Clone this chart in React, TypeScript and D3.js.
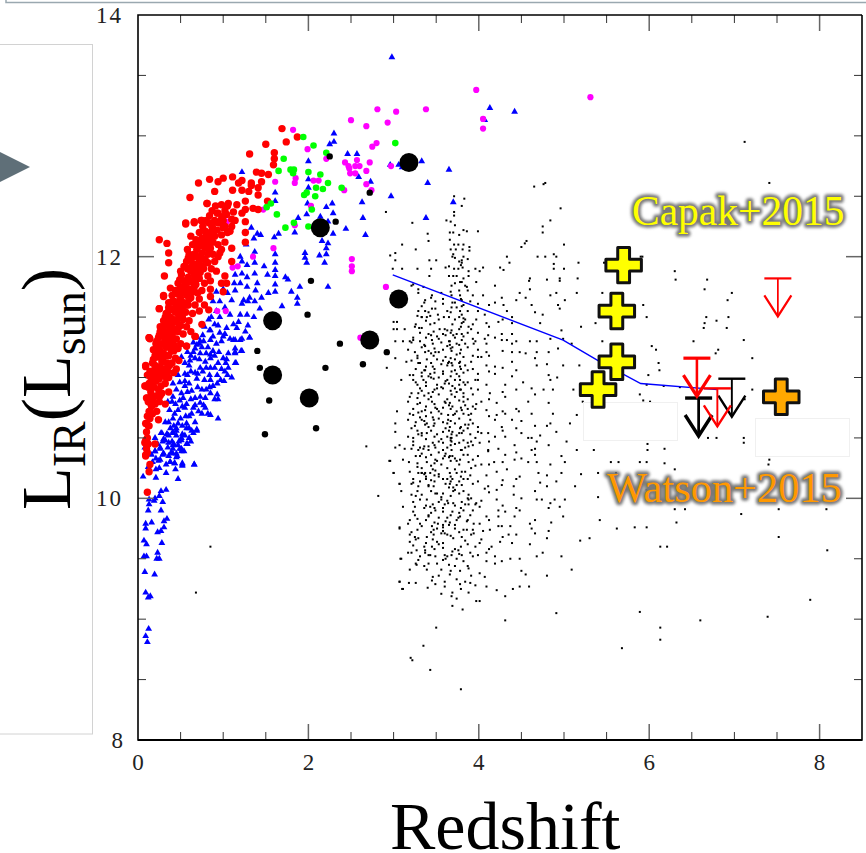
import React from "react";
import * as d3 from "d3";

const bluePts: number[][] = [[.06,10.18],[.21,10.17],[.33,10.21],[.47,10.16],[.44,10.24],[.25,10.25],[.21,10.24],[.52,10.28],[.66,10.28],[.375,10.30],[.24,10.31],[.43,10.29],[.33,10.07],[.27,10.06],[.25,10.02],[.2,10.0],[.13,9.99],[.13,9.95],[.19,9.98],[.29,9.97],[.12,9.9],[.27,9.9],[.34,9.83],[.305,9.81],[.16,9.8],[.09,9.79],[.09,9.75],[.305,9.76],[.27,9.73],[.23,9.72],[.07,9.65],[.1,9.62],[.28,9.63],[.23,9.55],[.07,9.52],[.1,9.52],[.22,9.5],[.25,9.5],[.08,9.39],[.195,9.37],[.09,9.22],[.12,9.18],[.145,9.19],[.125,8.92],[.09,8.86],[.11,8.81],[.27,10.54],[.34,10.53],[.41,10.54],[.45,10.56],[.52,10.53],[.65,10.54],[.69,10.56],[.2,10.5],[.3,10.49],[.36,10.46],[.42,10.45],[.51,10.48],[.58,10.45],[.08,10.42],[.26,10.41],[.41,10.41],[.49,10.41],[.54,10.39],[.2,10.39],[.3,10.37],[.41,10.37],[.46,10.35],
[1.31,11.33],[1.22,11.32],[1.14,11.31],[1.08,11.32],[1.26,11.38],[.85,11.39],[.96,11.37],[1.02,11.36],[.76,11.35],[.85,11.31],[.77,11.3],[.69,11.27],[.65,11.29],[1.14,11.24],[1.21,11.22],[1.14,11.21],[.95,11.21],[1.0,11.16],[.9,11.18],[.85,11.19],[.73,11.2],[.65,11.21],[.58,11.21],[.51,11.17],[.61,11.14],[.67,11.16],[.55,11.12],[.79,11.13],[.85,11.16],[.94,11.12],[1.03,11.12],[1.06,11.08],[1.15,11.12],[1.02,11.05],[.85,11.08],[.8,11.08],[.73,11.08],[.67,11.04],[.55,11.03],[.47,11.02],[.84,11.02],[.93,11.02],[.69,10.99],[1.01,10.97],[.93,10.95],[.85,10.98],[.55,10.97],[.49,10.96],[.41,10.95],[.84,10.92],[.75,10.9],[.63,10.89],[.55,10.93],[.45,10.9],[.51,10.87],[.85,10.87],[.93,10.86],[.9,10.82],[.94,10.82],[.79,10.83],[.73,10.84],[.67,10.83],[.53,10.83],[.41,10.84],[.49,10.81],[.73,10.79],[.67,10.77],[.77,10.77],[.79,10.75],[.55,10.75],[.47,10.73],[.37,10.73],[.71,10.72],[.63,10.7],[.56,10.68],[.85,10.69],[.94,10.66],[.41,10.66],[.36,10.63],[.32,10.63],[.57,10.62],[.67,10.63],[.57,10.58],[.45,10.58],[.69,10.57],[.63,10.56],[.41,10.55],[.34,10.53],[.28,10.54],[.55,10.52],[.51,10.5],[.32,10.48],[.57,10.45],[.47,10.44],[.41,10.44],[.51,10.41],[.26,10.42],[.2,10.39],[.3,10.37],[.45,10.37],[.39,10.38],[.51,10.39],[.45,10.34],[.26,10.32],[.38,10.3],[.43,10.29],[.52,10.29],[.66,10.28],[.52,10.27],
[2.98,13.65],[2.30,13.02],[2.30,12.95],[2.25,12.93],[2.46,12.85],[2.57,12.85],[2.0,12.79],[2.59,12.66],[3.06,12.76],[3.33,12.79],[3.4,12.61],[2.73,12.62],[1.22,12.7],[1.61,12.53],[1.61,12.46],[2.97,12.5],[2.63,12.45],[2.28,12.44],[2.0,12.64],[2.0,12.57],[1.99,12.44],[2.21,12.41],[2.64,12.32],[3.38,12.32],[2.44,12.23],[2.67,12.18],[2.29,12.36],[2.14,12.33],[1.98,12.35],[1.88,12.32],[2.23,12.29],[2.29,12.19],[2.16,12.13],[2.23,12.11],[2.21,12.07],[1.96,12.03],[1.96,11.99],[1.98,11.95],[2.13,12.01],[2.21,12.02],[2.19,11.95],[1.84,12.2],[1.65,12.19],[1.6,12.16],[1.44,12.18],[1.4,12.19],[1.33,12.24],[1.36,12.15],[1.27,12.1],[1.37,12.04],[1.2,12.0],[1.61,12.02],[1.61,11.95],[1.61,11.89],[1.48,11.92],[1.52,11.85],[1.61,11.84],[1.73,11.83],[1.76,11.81],[1.61,11.77],[1.9,11.75],[2.23,11.75],[1.37,11.95],[1.28,11.93],[1.22,11.96],[1.37,11.86],[1.22,11.86],[1.13,11.78],[1.28,11.75],[1.14,11.72],[1.38,11.72],[1.53,11.7],[1.61,11.71],[1.8,11.71],[1.87,11.66],[1.87,11.61],[1.69,11.59],[1.37,11.63],[1.29,11.63],[1.24,11.64],[1.22,11.61],[1.31,11.66],[1.43,11.57],[1.0,11.73],[.92,11.71],[.88,11.63],[.96,11.63],[1.28,11.52],[1.2,11.52],[1.08,11.52],[.96,11.5],[.86,11.5],[.83,11.48],[1.29,11.43],[1.16,11.41],[1.04,11.41],[.94,11.43],[.84,11.39],[1.31,11.33],[1.2,11.31],[1.12,11.31],[1.0,11.34],[.88,11.34],[.73,11.3],[1.22,11.22],[1.14,11.2],[1.04,11.15],[1.14,11.12],[4.13,13.23],[4.42,13.2],[4.07,13.13],[3.65,12.72],[3.7,12.45],[2.96,12.76],[3.1,12.74],
[.6,11.1],[.62,11.05],[.58,11.02],[.72,11.15],[.7,11.03],[.76,11.05],[.78,10.98],[.82,11.25],[.88,11.22],[.92,11.28],[.98,11.3],[.62,11.18],[.67,11.24],[.75,11.25],[.8,11.2],[.9,11.08],[.98,11.07],[.97,10.98],[1.05,11.02],[.88,10.93],[.8,10.9],[.7,10.92],[.6,10.95],[.62,10.82],[.58,10.88],[.57,10.78],[.65,10.75],[.75,10.7],[.82,10.7],[.6,10.68],[.52,10.76],[.44,10.78],[.4,10.8],[.35,10.8],[.43,10.7],[.5,10.66],[.47,10.62],[.6,10.58],[.52,10.6],[.42,10.6],[.38,10.58],[.36,10.52],[.45,10.52],[.6,10.5],[.62,10.47],[.4,10.47],[.29,10.47],[.23,10.45],[.35,10.42],[.48,10.47],[.36,10.35],[.33,10.28],[.29,10.36],[.21,10.33],[.17,10.3],[.13,10.46],[.16,10.36],[.12,10.26],[.7,11.33],[.78,11.42],[.72,11.28],[1.1,11.0],[1.06,11.2],[.9,11.44],[.92,11.55],[1.02,11.58],[1.1,11.64],[1.05,11.7],[1.14,11.85],[1.2,11.78],[1.28,11.83],[1.4,11.78],[1.45,11.66],[1.18,11.46],[1.36,11.5],[1.12,11.44]];

const redPts: number[][] = [[1.69,13.06],[1.87,12.99],[1.74,12.95],[1.5,12.93],[1.6,12.86],[1.31,12.85],[1.6,12.81],[1.59,12.76],[1.39,12.7],[1.45,12.69],[1.53,12.68],[1.45,12.62],[1.33,12.61],[1.22,12.63],[1.11,12.66],[1.0,12.65],[.94,12.62],[.84,12.64],[.71,12.61],[.61,12.49],[.9,12.54],[1.11,12.55],[.81,12.44],[1.41,12.57],[1.41,12.51],[1.52,12.46],[1.35,12.4],[1.41,12.39],[1.26,12.29],[1.26,12.2],[1.26,12.12],[.56,12.27],[.66,12.28],[.74,12.3],[.62,12.17],[.25,12.14],[.34,12.11],[.36,12.03],[.36,11.95],[.31,11.84],[.3,11.68],[.25,11.57],[.13,11.33],[.22,11.3],[.18,11.23],[.09,11.1],[.09,10.93],[.11,10.83],
[.81,12.44],[.98,12.43],[1.06,12.44],[.94,12.36],[.98,12.31],[1.26,12.46],[1.26,12.39],[1.16,12.43],[1.12,12.37],[1.22,12.55],[1.18,12.61],[1.3,12.54],[1.33,12.59],[1.1,12.31],[1.22,12.36],[1.08,12.21],[1.0,12.24],[.87,12.25],[.83,12.28],[.75,12.3],[.66,12.29],[.56,12.28],[.85,12.2],[.77,12.15],[.71,12.12],[.58,12.06],[.69,12.06],[.59,11.99],[.63,11.92],[.51,11.85],[.49,11.81],[.57,11.78],[.38,11.74],[.53,11.75],[.45,11.7],[.3,11.67],[.4,11.63],[.25,11.57],[.36,11.55],[.45,11.61],[.26,11.42],[.13,11.33],[.32,11.34],[.26,11.38],[.75,11.44],[.67,11.34],[.57,11.26],[1.02,11.84],[1.04,11.78],[.98,11.78],[.85,11.73],[.85,11.67],[.83,11.56],[1.1,11.96],[1.1,12.07],[.96,12.03],[1.0,11.71],
[.09,10.36],[.1,10.41],[.08,10.46],[.11,10.5],[.1,10.55],[.09,10.62],[.12,10.6],[.14,10.66],[.11,10.68],[.17,10.7],[.13,10.72],[.16,10.76],[.2,10.78],[.12,10.8],[.18,10.83],[.22,10.85],[.15,10.88],[.24,10.9],[.19,10.92],[.27,10.93],[.13,10.95],[.21,10.97],[.25,10.99],[.17,11.0],[.29,11.02],[.23,11.03],[.14,11.05],[.31,11.07],[.26,11.09],[.2,11.1],[.34,11.12],[.28,11.13],[.18,11.15],[.23,11.17],[.36,11.18],[.3,11.2],[.26,11.22],[.39,11.22],[.33,11.25],[.22,11.25],[.42,11.27],[.28,11.28],[.36,11.3],[.45,11.32],[.31,11.33],[.4,11.35],[.25,11.35],[.34,11.38],[.47,11.38],[.43,11.4],[.38,11.42],[.3,11.42],[.5,11.43],[.35,11.45],[.45,11.46],[.41,11.48],[.53,11.48],[.38,11.5],[.32,11.5],[.48,11.52],[.44,11.54],[.56,11.54],[.41,11.57],[.51,11.58],[.36,11.58],[.47,11.6],[.59,11.6],[.54,11.62],[.43,11.63],[.5,11.65],[.62,11.66],[.57,11.68],[.47,11.69],[.53,11.71],[.65,11.71],[.6,11.73],[.5,11.75],[.56,11.76],[.68,11.77],[.63,11.79],[.54,11.8],[.7,11.82],[.59,11.83],[.66,11.85],[.73,11.87],[.62,11.88],[.69,11.9],[.58,11.9],[.76,11.92],[.66,11.94],[.72,11.96],[.79,11.97],[.62,11.97],[.7,12.0],[.82,12.02],[.75,12.03],[.66,12.02],[.85,12.07],[.78,12.08],[.72,12.09],[.88,12.12],[.81,12.13],[.75,12.15],[.9,12.17],[.84,12.19],[.79,12.21],[.93,12.22],[.87,12.25],[.96,12.28],[.9,12.3],[.99,12.33],[.93,12.36],[1.02,12.38],[1.05,12.42],
[.09,11.09],[.14,11.32],[.1,10.83],[.08,10.93],[.1,10.62],[.09,10.48],[.09,10.35],[.14,10.28],[.13,10.22],[.11,10.05],[.32,10.78],[.36,10.88],[.45,11.07],[.57,11.26],[.67,11.34],[.2,10.45],[.24,10.65],[.15,11.0],[.19,11.06],[.24,11.2],[.11,11.02],[.16,10.94],[.37,11.26],[.41,11.3],[.53,11.55],[.6,11.65],[.66,11.75],[.72,11.82],[.77,11.9],[.82,11.95],[.88,12.02],[.94,12.1],[.98,12.18],[.73,12.0],[.8,12.07],[.86,12.15],[.68,11.92],[.6,11.8],[.55,11.7],[.46,11.55],[.39,11.4],[.33,11.3],[.28,11.18],[.2,10.98],[.16,10.82],[.48,11.42],[.42,11.22],[.35,11.05],[.52,11.6],[.57,11.6],[.64,11.9],[.7,11.7],
[.12,10.92],[.15,11.05],[.17,11.12],[.2,11.18],[.21,11.28],[.24,11.33],[.28,11.38],[.3,11.47],[.33,11.53],[.36,11.62],[.4,11.68],[.44,11.72],[.47,11.78],[.5,11.88],[.54,11.92],[.57,11.96],[.6,12.02],[.64,12.1],[.68,12.14],[.72,12.2],[.76,12.25],[.8,12.3],[.84,12.34],[.87,12.38],[.91,12.42],[.15,10.78],[.13,10.82],
[.22,10.72],[.25,10.8],[.28,10.87],[.32,10.95],[.36,11.0],[.4,11.12],[.44,11.16],[.47,11.24],[.5,11.28],[.53,11.36],[.57,11.42],[.6,11.47],[.64,11.53],[.67,11.6],[.72,11.65],[.75,11.72],[.78,11.78],[.82,11.84],[.86,11.9],[.9,11.96],[.94,12.0],[.98,12.06],[1.02,12.12],[1.05,12.2],[1.1,12.25],[1.14,12.3],[1.02,12.25],[.37,11.1],[.42,11.04],[.48,11.14],[.52,11.5],[.62,11.38],[.72,11.55],[.78,11.6],[.85,11.8],[.92,11.88],[.33,11.0],[.26,10.85],
[.25,11.05],[.29,11.15],[.33,11.18],[.38,11.3],[.42,11.38],[.46,11.48],[.5,11.52],[.55,11.6],[.58,11.72],[.62,11.72],[.66,11.8],[.7,11.86],[.74,11.92],[.78,11.98],[.82,12.08],[.86,12.12],[.9,12.22],[.94,12.28],[1.0,12.3],[1.04,12.35],[.35,11.35],[.4,11.45],[.45,11.6],[.5,11.7],[.55,11.8],[.6,11.9],[.65,12.0],[.7,12.08],[.75,12.1],[.8,12.18],[.85,12.28],[.25,11.25],[.2,11.05],[.16,10.85],[.13,10.6],[.12,10.45],[.11,10.38]];

const magentaPts: number[][] = [[1.82,13.05],[1.99,12.89],[2.21,12.81],[1.61,12.62],[1.85,12.65],[1.84,12.61],[2.06,12.63],[2.12,12.63],[2.42,12.55],[2.5,13.13],[2.81,13.22],[3.03,13.2],[3.38,13.22],[2.68,13.08],[2.93,13.11],[2.75,12.91],[2.8,12.94],[2.43,12.78],[2.47,12.75],[2.48,12.73],[2.49,12.69],[2.55,12.69],[2.57,12.8],[2.55,12.75],[2.6,12.75],[2.72,12.78],[2.68,12.71],[2.68,12.6],[2.74,12.55],[2.97,12.75],[1.84,12.26],[1.47,12.39],[1.59,12.07],[1.35,12.0],[2.51,11.98],[2.51,11.92],[2.51,11.88],[2.91,11.75],[1.17,11.92],[1.11,11.91],[1.03,11.55],[.93,11.55],[2.61,11.33],[2.03,12.42],[1.26,12.46],[1.04,12.29],[3.97,13.38],[4.05,13.14],[4.05,13.06],[5.31,13.32]];

const greenPts: number[][] = [[1.94,12.99],[2.06,12.92],[2.21,12.86],[1.71,12.81],[1.65,12.71],[1.79,12.72],[1.83,12.72],[1.82,12.69],[2.0,12.7],[2.14,12.68],[2.23,12.61],[2.09,12.57],[2.17,12.56],[2.39,12.57],[1.98,12.53],[1.95,12.51],[2.08,12.5],[2.04,12.39],[1.56,12.44],[1.51,12.41],[1.63,12.35],[1.83,12.28],[1.73,12.24],[2.0,12.25],[3.02,12.94]];

const blackMid: number[][] = [[2.25,12.83],[2.72,12.53],[2.32,12.29],[2.03,11.8],[1.99,11.52],[1.4,11.22],[1.43,11.08],[2.2,11.08],[1.54,10.81],[2.37,11.28],[2.64,11.11],[2.92,11.21],[2.09,10.58],[1.49,10.53]];

const blackBig: number[][] = [[3.18,12.78],[2.14,12.24],[1.58,11.47],[3.06,11.65],[2.72,11.31],[1.58,11.02],[2.01,10.83]];

// redshift column -> luminosities read in that column
const dotColumns: [number, number[]][] = [
[3.21,[11.76,11.29,11.14,10.87,10.58,10.41,10.12,9.72,9.55]],
[3.26,[11.44,11.07,10.96,10.63,10.35,10.02,9.66,9.46]],
[3.31,[11.37,11.12,10.91,10.67,10.42,10.14,9.79,9.52]],
[3.36,[11.62,11.27,11.06,10.85,10.64,10.43,10.2,9.92,9.6,9.44]],
[3.41,[11.54,11.22,11.01,10.82,10.59,10.4,10.11,9.85,9.53]],
[3.46,[11.28,11.09,10.88,10.67,10.46,10.24,9.95,9.66,9.35]],
[3.51,[11.34,11.15,10.94,10.74,10.53,10.31,10.04,9.75,9.46]],
[3.56,[11.29,11.11,10.92,10.7,10.49,10.28,9.99,9.71,9.41]],
[3.61,[11.35,11.17,10.97,10.79,10.58,10.37,10.12,9.81,9.5]],
[3.65,[11.84,11.5,11.3,11.13,10.95,10.77,10.56,10.34,10.09,9.78,9.45]],
[3.69,[12.0,11.62,11.44,11.25,11.1,10.93,10.76,10.55,10.35,10.16,9.89,9.56,9.22]],
[3.74,[11.84,11.58,11.36,11.19,11.03,10.88,10.72,10.52,10.31,10.11,9.82,9.5,9.33]],
[3.79,[11.93,11.65,11.42,11.23,11.07,10.9,10.75,10.59,10.4,10.18,9.92,9.6,9.25]],
[3.84,[11.76,11.48,11.28,11.1,10.94,10.77,10.61,10.42,10.22,9.95,9.65,9.31]],
[3.91,[11.4,11.13,10.91,10.7,10.47,10.25,10.0,9.7,9.36]],
[3.96,[11.3,10.98,10.74,10.5,10.27,9.95,9.6,9.28]],
[4.03,[11.17,10.8,10.54,10.28,9.98,9.66]],
[3.23,[11.33,11.31,11.02,10.98,10.74,10.69,10.47,10.44,10.16,10.13,9.97,9.61]],
[3.28,[11.51,11.18,11.16,10.94,10.83,10.78,10.56,10.29,10.26,10.06,9.83,9.74]],
[3.33,[11.41,11.25,11.04,11.01,10.89,10.72,10.54,10.52,10.37,10.25,10.21,10.03,9.77]],
[3.38,[11.47,11.33,11.09,10.96,10.93,10.76,10.68,10.49,10.34,10.18,10.16,9.94,9.82,9.63]],
[3.44,[11.66,11.35,11.2,11.12,11.0,10.84,10.71,10.56,10.36,10.27,10.15,10.06,9.88,9.72]],
[3.48,[11.45,11.24,11.07,11.04,10.9,10.78,10.62,10.51,10.44,10.29,10.19,10.14,9.92,9.8,9.58]],
[3.53,[11.48,11.32,11.21,11.0,10.86,10.72,10.66,10.47,10.38,10.2,10.18,9.97,9.84,9.62,9.36]],
[3.58,[11.65,11.36,11.14,11.03,10.91,10.75,10.63,10.46,10.33,10.16,10.04,9.92,9.76,9.59]],
[3.63,[11.55,11.39,11.26,11.1,10.98,10.82,10.62,10.51,10.42,10.25,10.16,9.98,9.84,9.7,9.52]],
[3.67,[12.06,11.71,11.54,11.37,11.24,11.16,11.01,10.89,10.74,10.64,10.5,10.48,10.44,10.31,10.18,10.14,10.02,9.86,9.69,9.4]],
[3.72,[12.26,11.78,11.62,11.48,11.33,11.15,11.06,10.98,10.84,10.7,10.62,10.45,10.33,10.24,10.07,9.94,9.78,9.58,9.44]],
[3.77,[12.18,11.96,11.72,11.5,11.4,11.27,11.12,11.01,10.94,10.81,10.66,10.54,10.46,10.28,10.14,10.04,9.88,9.72,9.54]],
[3.82,[12.22,12.0,11.82,11.6,11.46,11.34,11.17,11.04,10.96,10.84,10.7,10.56,10.48,10.36,10.16,10.06,9.9,9.74,9.48]],
[3.87,[11.98,11.72,11.55,11.37,11.25,11.06,10.96,10.82,10.74,10.58,10.46,10.36,10.16,10.0,9.82,9.62,9.44]],
[3.93,[11.68,11.44,11.32,11.18,11.07,10.86,10.76,10.62,10.44,10.32,10.12,9.9,9.74,9.52]],
[4.12,[11.6,11.42,11.18,11.05,10.82,10.68,10.47,10.28,10.05,9.82,9.58]],
[4.28,[11.48,11.22,11.08,10.88,10.72,10.56,10.3,10.15,9.94,9.68]],
[4.44,[11.64,11.3,11.06,10.9,10.74,10.58,10.38,10.16,9.92,9.7]],
[4.66,[11.54,11.16,10.86,10.6,10.36,10.06,9.82]],
[4.84,[11.68,11.32,10.98,10.62,10.28,9.96]],
];

const readDots: number[][] = [[3.11,9.93],[3.25,9.93],[3.43,9.93],[3.49,9.9],[3.6,9.95],[3.64,9.96],[3.7,9.96],[3.8,9.97],[3.88,9.95],[3.97,9.96],[4.01,9.93],[4.23,9.9],[4.31,9.89],[4.48,9.9],[4.82,9.92],[4.95,9.93],[3.23,9.89],[3.19,9.82],[3.25,9.86],[3.41,9.86],[3.58,9.89],[3.78,9.85],[3.9,9.86],[4.09,9.85],[4.23,9.85],[4.42,9.85],[4.99,9.85],[3.17,9.79],[3.45,9.77],[3.52,9.79],[3.58,9.78],[3.66,9.8],[3.76,9.84],[3.86,9.81],[3.94,9.79],[4.01,9.79],[4.23,9.77],[4.37,9.77],[4.6,9.79],[3.07,9.75],[3.47,9.74],[3.58,9.73],[3.72,9.75],[3.86,9.74],[4.05,9.73],[4.13,9.74],[4.27,9.77],[4.62,9.75],[4.82,9.73],[3.19,9.7],[3.25,9.68],[3.47,9.7],[3.39,9.68],[3.6,9.71],[3.7,9.67],[3.8,9.68],[3.94,9.71],[4.35,9.7],[4.66,9.71],[4.8,9.67],[3.29,9.67],[3.19,9.64],[3.51,9.64],[3.58,9.63],[4.01,9.63],[4.25,9.64],[4.39,9.63],[4.6,9.62],[3.27,9.57],[3.37,9.57],[3.45,9.6],[3.17,9.55],[3.37,9.55],[3.43,9.53],[3.49,9.52],[3.6,9.53],[3.68,9.53],[3.76,9.57],[3.8,9.53],[3.9,9.55],[3.99,9.53],[4.09,9.55],[4.19,9.52],[4.37,9.5],[4.48,9.5],[4.68,9.52],[4.75,9.55],[4.97,9.52],[3.08,9.5],[3.29,9.49],[3.58,9.49],[4.09,9.48],[4.19,9.46],[4.27,9.48],[3.27,9.45],[3.19,9.41],[3.41,9.46],[3.88,9.42],[3.78,9.4],[4.01,9.38],[4.07,9.35],[3.66,9.37],[3.39,9.41],[4.55,9.37],[4.8,9.36],[3.07,9.31],[3.18,9.3],[3.26,9.3],[3.45,9.32],[3.49,9.29],[3.6,9.31],[3.78,9.29],[3.9,9.3],[3.11,9.25],[3.4,9.26],[3.6,9.27],[4.09,9.27],[4.21,9.24],[4.48,9.27],[4.59,9.27],[3.56,9.21],[3.88,9.22],[4.31,9.19],[3.68,9.19],[3.74,9.17],[3.97,9.15],[4.01,9.15],[3.69,9.11],[3.81,9.08],[4.91,9.05],
[4.65,12.58],[4.76,12.6],[4.96,12.4],[4.84,12.3],[3.71,12.5],[3.83,12.48],[3.8,12.42],[2.91,12.37],[3.22,12.28],[3.71,12.37],[3.71,12.34],[3.62,12.3],[3.67,12.29],[4.75,12.25],[4.75,12.2],[3.4,12.19],[3.41,12.13],[3.66,12.2],[3.7,12.2],[3.86,12.21],[3.99,12.21],[3.66,12.14],[4.56,12.13],[4.5,12.08],[4.54,12.11],[5.0,12.1],[3.1,12.1],[3.71,12.1],[3.76,12.1],[3.82,12.1],[3.89,12.08],[3.26,12.06],[3.73,12.06],[3.81,12.06],[3.89,12.05],[2.96,12.01],[3.02,12.03],[3.7,12.02],[3.72,11.99],[4.69,12.0],[4.78,12.0],[4.88,12.02],[4.91,12.0],[4.33,12.0],[4.36,11.95],[3.02,11.97],[3.42,11.97],[3.5,11.97],[3.8,11.97],[3.8,11.95],[5.17,11.95],[4.88,11.94],[3.61,11.91],[3.65,11.92],[3.71,11.9],[3.76,11.9],[3.81,11.91],[2.99,11.9],[3.1,11.9],[3.28,11.9],[3.44,11.9],[3.96,11.9],[4.05,11.91],[4.25,11.91],[4.29,11.89],[4.88,11.9],[5.0,11.9],[3.88,11.88],[3.88,11.84],[4.01,11.88],[3.42,11.84],[3.7,11.84],[4.6,11.82],[4.59,11.8],[4.8,11.81],[4.95,11.82],[4.95,11.8],[5.16,11.82],[3.78,11.79],[3.8,11.79],[3.97,11.79],[3.23,11.77],[3.35,11.75],[3.68,11.76],[3.86,11.75],[4.19,11.76],[4.6,11.73],[4.48,11.7],[4.91,11.7],[5.15,11.7],[3.29,11.73],[3.29,11.7],[3.45,11.68],[3.56,11.7],[3.68,11.68],[3.78,11.68],[4.05,11.68],[4.27,11.66],[5.01,11.64],[3.37,11.64],[3.49,11.63],[3.58,11.61],[3.8,11.64],[3.9,11.63],[3.99,11.61],[4.19,11.62],[4.29,11.6],[4.62,11.6],[4.93,11.6],[3.33,11.59],[3.45,11.57],[3.68,11.58],[3.8,11.59],[3.29,11.55],[3.37,11.55],[3.49,11.57],[3.78,11.55],[3.99,11.55],[4.33,11.55],[4.95,11.57],[3.43,11.51],[3.52,11.52],[3.59,11.5],[3.8,11.52],[3.82,11.49],[4.75,11.52],[3.33,11.5],[3.39,11.5],[4.07,11.52],[4.39,11.5],
[3.17,10.8],[3.31,10.79],[3.45,10.8],[3.6,10.8],[3.66,10.79],[3.82,10.8],[3.97,10.78],[4.21,10.79],[4.58,10.8],[4.82,10.79],[3.04,10.72],[3.19,10.7],[3.29,10.71],[3.37,10.73],[3.49,10.75],[3.64,10.69],[3.7,10.69],[3.8,10.73],[3.88,10.69],[4.09,10.73],[4.21,10.69],[4.31,10.7],[4.62,10.7],[4.87,10.7],[5.15,10.69],[3.17,10.65],[3.33,10.65],[3.47,10.65],[3.64,10.65],[3.9,10.65],[4.19,10.65],[4.39,10.65],[4.5,10.64],[3.02,10.62],[3.25,10.6],[3.37,10.61],[3.39,10.62],[3.47,10.6],[3.66,10.59],[3.78,10.58],[3.88,10.61],[3.99,10.59],[4.27,10.59],[4.8,10.6],[5.07,10.62],[3.02,10.55],[3.17,10.51],[3.23,10.5],[3.29,10.53],[3.39,10.54],[3.58,10.55],[3.68,10.53],[3.68,10.5],[3.68,10.47],[3.8,10.54],[3.9,10.53],[3.99,10.55],[4.11,10.54],[4.19,10.51],[4.31,10.51],[4.5,10.54],[4.62,10.5],[4.68,10.47],[4.91,10.55],[5.03,10.47],[3.07,10.44],[3.02,10.42],[3.13,10.41],[3.29,10.4],[3.35,10.41],[3.41,10.43],[3.49,10.42],[3.58,10.4],[3.68,10.4],[3.8,10.4],[3.88,10.43],[4.01,10.46],[4.11,10.4],[4.23,10.41],[4.42,10.44],[4.62,10.4],[4.66,10.41],[4.82,10.44],[5.15,10.4],[2.96,10.31],[3.11,10.32],[3.18,10.3],[3.31,10.35],[3.39,10.3],[3.49,10.32],[3.6,10.35],[3.66,10.35],[3.78,10.32],[3.88,10.3],[3.99,10.35],[4.11,10.39],[4.31,10.36],[4.42,10.32],[4.5,10.33],[4.58,10.3],[4.68,10.3],[4.97,10.35],[5.01,10.3],[3.29,10.21],[3.33,10.21],[3.37,10.21],[3.43,10.21],[3.49,10.23],[3.66,10.21],[3.74,10.21],[3.8,10.22],[3.9,10.19],[3.19,10.22],[3.0,10.21],[4.09,10.19],[4.21,10.22],[4.33,10.24],[4.48,10.18],[4.7,10.21],[4.8,10.19],[4.97,10.21],[3.07,10.12],[3.29,10.1],[3.41,10.1],[3.47,10.1],[3.66,10.12],[3.7,10.09],[3.8,10.11],[3.99,10.14],[4.07,10.08],[4.11,10.1],[4.27,10.11],[4.41,10.1],[4.72,10.13],[4.8,10.1],[4.91,10.14],[5.13,10.1],[3.09,10.06],[3.21,10.03],[3.31,9.99],[3.39,9.99],[3.49,10.04],[3.56,10.01],[3.7,10.06],[3.88,10.03],[3.88,9.99],[4.21,10.07],[4.21,9.99],[4.41,10.03],[4.68,9.99],[4.74,9.99],[4.89,9.99],[5.01,9.99],
[3.25,11.42],[3.3,11.41],[3.0,11.46],[3.04,11.46],[3.33,11.5],[3.43,11.44],[3.54,11.4],[3.6,11.4],[3.68,11.39],[3.8,11.45],[3.88,11.42],[3.97,11.48],[4.09,11.45],[4.23,11.46],[4.39,11.45],[3.0,11.4],[3.04,11.4],[3.13,11.4],[3.47,11.38],[3.41,11.36],[3.7,11.35],[3.8,11.36],[3.99,11.37],[4.11,11.35],[4.27,11.36],[4.39,11.36],[4.97,11.39],[4.68,11.3],[3.45,11.31],[3.66,11.3],[3.8,11.31],[4.07,11.32],[4.19,11.33],[4.27,11.31],[4.33,11.31],[4.39,11.28],[4.99,11.32],[5.09,11.28],[3.02,11.3],[3.11,11.3],[3.19,11.3],[3.31,11.3],[3.37,11.26],[3.66,11.27],[3.74,11.28],[3.94,11.28],[4.09,11.28],[3.17,11.23],[3.25,11.21],[3.37,11.21],[3.49,11.21],[3.58,11.23],[3.68,11.22],[3.78,11.2],[3.99,11.23],[4.09,11.21],[4.39,11.21],[4.48,11.21],[4.68,11.21],[4.82,11.21],[4.93,11.24],[3.02,11.16],[3.15,11.13],[3.29,11.12],[3.39,11.15],[3.47,11.18],[3.64,11.12],[3.68,11.12],[3.78,11.13],[3.99,11.17],[4.09,11.1],[4.19,11.09],[4.39,11.13],[4.68,11.1],[4.8,11.11],[4.99,11.1],[2.92,11.08],[3.19,11.02],[3.37,11.06],[3.43,11.03],[3.58,11.05],[3.68,11.05],[3.78,11.09],[3.99,11.03],[4.19,11.03],[4.39,11.01],[4.82,11.02],[3.09,10.98],[3.35,10.98],[3.47,10.99],[3.6,10.95],[3.78,10.98],[3.99,10.98],[4.09,10.94],[4.31,10.94],[4.62,10.91],[4.76,10.9],[4.87,10.9],[5.11,10.9],[3.29,10.87],[3.41,10.87],[3.51,10.91],[3.72,10.91],[3.82,10.87],[3.99,10.9],[4.13,10.87],[4.31,10.84],[3.19,10.84],[3.68,10.86],[3.78,10.9]];

const scatterPts: number[][] = [[7.41,12.61],[5.92,12.0],[6.3,11.88],[6.31,11.81],[6.68,11.81],[6.65,11.73],[6.97,11.7],[6.92,11.64],[5.93,11.6],[5.97,11.5],[6.67,11.5],[6.65,11.45],[6.64,11.41],[6.79,11.47],[6.93,11.5],[6.91,11.41],[6.52,11.3],[7.11,11.31],[6.03,11.26],[6.08,11.23],[6.81,11.23],[6.78,11.2],[7.21,11.16],[6.11,11.12],[6.12,11.06],[5.99,11.02],[5.97,10.94],[6.36,10.92],[6.17,10.93],[5.89,10.86],[5.93,10.81],[6.01,10.8],[7.21,10.9],[7.12,10.82],[6.69,10.5],[6.79,10.5],[7.11,10.5],[7.11,10.46],[5.98,10.45],[5.98,10.4],[6.18,10.41],[5.55,10.3],[5.64,10.3],[5.89,10.3],[5.97,10.3],[6.18,10.29],[6.3,10.24],[7.41,10.32],[7.4,10.28],[5.4,10.21],[5.61,10.21],[5.91,10.12],[5.97,10.07],[6.3,9.91],[6.42,9.91],[7.08,9.87],[7.52,9.91],[8.08,9.91],[5.4,10.01],[5.42,9.82],[5.62,9.75],[6.32,9.8],[7.52,9.68],[5.3,9.67],[5.19,9.65],[6.13,9.6],[6.21,9.6],[5.97,9.76],[5.83,9.76],[7.12,12.95],[8.09,9.57],[7.89,9.16],[7.39,9.02],[6.6,8.99],[6.13,8.93],[6.13,8.83],[5.68,8.76],[5.09,9.41],[5.89,9.06],[4.31,8.99],[3.5,8.93],[3.2,8.68],[3.43,8.58],[3.79,8.42],[4.78,12.61],[.85,9.6],[.68,9.22],[2.68,10.43],[2.82,10.02],[2.95,10.31],[3.0,10.21],[3.07,10.12],[3.07,9.76],[3.09,9.5],[3.07,9.31],[3.1,9.25],[3.35,8.78],[3.22,8.66],[5.45,11.3],[5.45,11.7],[5.47,11.95],[5.9,12.0],[5.35,10.7],[5.35,10.4],[5.37,11.45],[5.5,10.95],[5.55,10.72],[5.6,10.55],[5.4,10.55],[5.2,11.42],[5.18,11.1],[5.22,10.8],[5.25,10.5],[5.2,10.2],[4.72,11.45],[4.55,11.2],[4.52,10.96],[4.47,10.72],[4.92,11.0],[4.58,10.5],[4.72,10.52],[4.5,10.0],[4.85,9.8],[4.18,10.3],[4.15,9.6],[4.5,9.4],[4.4,9.25],[4.55,11.66],[4.6,11.3]];

const lineZ = [2.99, 4.99, 5.4, 5.9, 6.8];
const lineL = [11.85, 11.31, 11.14, 10.95, 10.9];

const capakCrosses: number[][] = [[5.70, 11.93], [5.62, 11.55], [5.62, 11.13], [5.40, 10.9]];
const watsonCrosses: number[][] = [[7.55, 10.84]];

// z, L of bar, colour, stroke weight
const limitZ = [6.58, 6.97, 6.56, 6.8, 7.51];
const limitL = [10.83, 10.99, 11.16, 10.91, 11.82];
const limitColors = ["#000", "#000", "#f00", "#f00", "#f00"];
const limitWeights = [3.4, 2.4, 3.2, 2.4, 2.2];

const xTickLabels = [0, 2, 4, 6, 8];
const yTickLabels = [8, 10, 12, 14];
const xMinor = [0.5, 1, 1.5, 2, 2.5, 3, 3.5, 4, 4.5, 5, 5.5, 6, 6.5, 7, 7.5, 8];
const yMinor = [8.5, 9, 9.5, 10, 10.5, 11, 11.5, 12, 12.5, 13, 13.5];

const x = d3.scaleLinear().domain([0, 8.5]).range([138, 862.2]);
const y = d3.scaleLinear().domain([8, 14]).range([740, 15]);

const tri = d3.symbol(d3.symbolTriangle, 20)() as string;
const crossPath = d3.symbol(d3.symbolCross, 700)() as string;
const bluePath = d3.line<number>().x((_, i) => x(lineZ[i])).y((d) => y(d))(lineL) as string;

const serif = "'Liberation Serif', 'Times New Roman', serif";

function GlowText({ tx, ty, size, fill, label }: { tx: number; ty: number; size: number; fill: string; label: string }) {
  return (
    <g fontFamily={serif} fontSize={size}>
      <text x={tx} y={ty} fill="#777" stroke="#777" strokeWidth={5.5} strokeLinejoin="round" filter="url(#glow)">{label}</text>
      <text x={tx} y={ty} fill={fill}>{label}</text>
    </g>
  );
}

function Arrow({ z, L, color, w }: { z: number; L: number; color: string; w: number }) {
  const cx = x(z);
  const cy = y(L);
  return (
    <g fill="none" stroke={color} strokeWidth={w}>
      <path d={`M${cx - 13.5},${cy}H${cx + 13.5}`} />
      <path d={`M${cx},${cy}V${cy + 38}`} strokeWidth={w * 0.8} />
      <path d={`M${cx - 13.5},${cy + 17}L${cx},${cy + 38}L${cx + 13.5},${cy + 17}`} />
    </g>
  );
}

export default function App() {
  const dot = (z: number, l: number, key: string) => (
    <rect key={key} x={x(z) - 1} y={y(l) - 1} width={2} height={2} />
  );
  return (
    <svg width={866} height={853} viewBox="0 0 866 853" style={{ position: "absolute", left: 0, top: 0, background: "#fff" }}>
      <defs>
        <filter id="glow" x="-10%" y="-30%" width="120%" height="160%">
          <feGaussianBlur stdDeviation="1.6" />
        </filter>
      </defs>

      <rect x={6} y={-2} width={870} height={4.5} fill="#fff" stroke="#9aa8b0" strokeWidth={1.5} />
      <rect x={-2} y={44.5} width={94.5} height={689.5} fill="#fff" stroke="#d2d2d2" strokeWidth={1} />
      <path d="M0,152L30,167L0,182Z" fill="#5f6f78" />

      <g fill="#000">
        {dotColumns.flatMap(([z, ls], i) => ls.map((l, j) => dot(z, l, `c${i}-${j}`)))}
        {readDots.map((d, i) => dot(d[0], d[1], `r${i}`))}
        {scatterPts.map((d, i) => dot(d[0], d[1], `s${i}`))}
      </g>

      <g fill="#00f">
        {bluePts.map((d, i) => <path key={i} d={tri} transform={`translate(${x(d[0])},${y(d[1])})`} />)}
      </g>
      <g fill="#f0f">
        {magentaPts.map((d, i) => <circle key={i} cx={x(d[0])} cy={y(d[1])} r={3.1} />)}
      </g>
      <g fill="#f00">
        {redPts.map((d, i) => <circle key={i} cx={x(d[0])} cy={y(d[1])} r={3.7} />)}
      </g>
      <g fill="#0f0">
        {greenPts.map((d, i) => <circle key={i} cx={x(d[0])} cy={y(d[1])} r={3.3} />)}
      </g>
      <g fill="#000">
        {blackMid.map((d, i) => <circle key={i} cx={x(d[0])} cy={y(d[1])} r={3.2} />)}
        {blackBig.map((d, i) => <circle key={i} cx={x(d[0])} cy={y(d[1])} r={9.5} />)}
      </g>

      <path d={bluePath} fill="none" stroke="#00f" strokeWidth={1.4} />

      <rect x={583.5} y={402.5} width={94} height={38} fill="#fff" stroke="#f0f0f0" />
      <rect x={755.5} y={418.5} width={94} height={38} fill="#fff" stroke="#f0f0f0" />

      {limitZ.map((z, i) => <Arrow key={i} z={z} L={limitL[i]} color={limitColors[i]} w={limitWeights[i]} />)}

      {capakCrosses.map((d, i) => (
        <path key={i} d={crossPath} transform={`translate(${x(d[0])},${y(d[1])})`} fill="#ff0" stroke="#111" strokeWidth={3} strokeLinejoin="round" />
      ))}
      {watsonCrosses.map((d, i) => (
        <path key={i} d={crossPath} transform={`translate(${x(d[0])},${y(d[1])})`} fill="#ffa800" stroke="#111" strokeWidth={3} strokeLinejoin="round" />
      ))}

      <g>
        {xMinor.map((t) => {
          const major = t % 2 === 0;
          const len = major ? 16 : 8;
          const c = major ? "#666" : "#333";
          return (
            <g key={t} stroke={c} strokeWidth={major ? 1.5 : 1}>
              <line x1={x(t)} x2={x(t)} y1={740} y2={740 - len} />
              <line x1={x(t)} x2={x(t)} y1={15} y2={15 + len} />
            </g>
          );
        })}
        {yMinor.map((t) => {
          const major = t % 2 === 0;
          const len = major ? 16 : 8;
          const c = major ? "#666" : "#333";
          return (
            <g key={t} stroke={c} strokeWidth={major ? 1.5 : 1}>
              <line y1={y(t)} y2={y(t)} x1={138} x2={138 + len} />
              <line y1={y(t)} y2={y(t)} x1={862} x2={862 - len} />
            </g>
          );
        })}
      </g>
      <path d="M862,15H138V740H862V15" fill="none" stroke="#000" strokeWidth={1.6} />
      <line x1={138} x2={862} y1={740} y2={740} stroke="#000" strokeWidth={2} />

      <g fontFamily={serif} fontSize={23} fill="#222">
        {yTickLabels.map((t) => (
          <text key={t} x={123} y={y(t) + 8} textAnchor="end" letterSpacing={t > 9 ? 2 : 0}>{t}</text>
        ))}
        {xTickLabels.map((t) => (
          <text key={t} x={x(t)} y={770} textAnchor="middle">{t}</text>
        ))}
      </g>

      <GlowText tx={632} ty={225} size={41.5} fill="#ff0" label="Capak+2015" />
      <GlowText tx={607} ty={502} size={42.4} fill="#ff9800" label="Watson+2015" />

      <text x={390} y={849} fontFamily={serif} fontSize={68} fill="#000">Redshift</text>

      <text transform="translate(70,510) rotate(-90)" fontFamily={serif} fontSize={70} fill="#000">
        L<tspan fontSize={46} dy={15}>IR</tspan><tspan dy={-15}>(L</tspan><tspan fontSize={46} dy={15}>sun</tspan><tspan dy={-15}>)</tspan>
      </text>
    </svg>
  );
}
